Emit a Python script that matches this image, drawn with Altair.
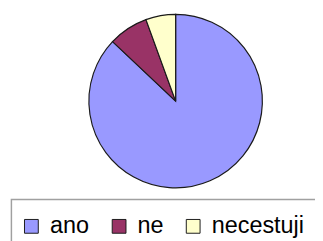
import altair as alt
import pandas as pd

categories = ["ano", "ne", "necestuji"]
values = [47, 4, 3]
colors = ["#9999FF", "#993366", "#FFFFCC"]

df = pd.DataFrame({"kat": categories, "hodnota": values, "poradi": [0, 1, 2]})

pie = alt.Chart(df).mark_arc(
    radius=89, stroke="#1a1a1a", strokeWidth=1.2
).encode(
    theta=alt.Theta("hodnota:Q", stack=True),
    order=alt.Order("poradi:Q"),
    x=alt.value(172),
    y=alt.value(92.5),
    color=alt.Color(
        "kat:N",
        scale=alt.Scale(domain=categories, range=colors),
        legend=alt.Legend(
            title=None,
            orient="none",
            legendX=12,
            legendY=209,
            direction="horizontal",
            symbolType="square",
            symbolSize=200,
            symbolStrokeColor="#1a1a1a",
            symbolStrokeWidth=1,
            symbolOpacity=1,
            labelFont="Liberation Sans",
            labelFontSize=24,
            labelColor="#000000",
            labelOffset=7,
            columnPadding=18,
            padding=0,
        ),
    ),
)

frame = alt.Chart(pd.DataFrame({"f": [0]})).mark_rect(
    filled=False, stroke="#a0a0a0", strokeWidth=1.5
).encode(
    x=alt.value(3.5), y=alt.value(193.5), x2=alt.value(340), y2=alt.value(280)
)

chart = alt.layer(frame, pie).properties(
    width=315, height=233, autosize=alt.AutoSizeParams(type="none"), padding=0
).configure_view(stroke=None)

chart.save("out.html", embed_options={"renderer": "svg", "actions": False})
